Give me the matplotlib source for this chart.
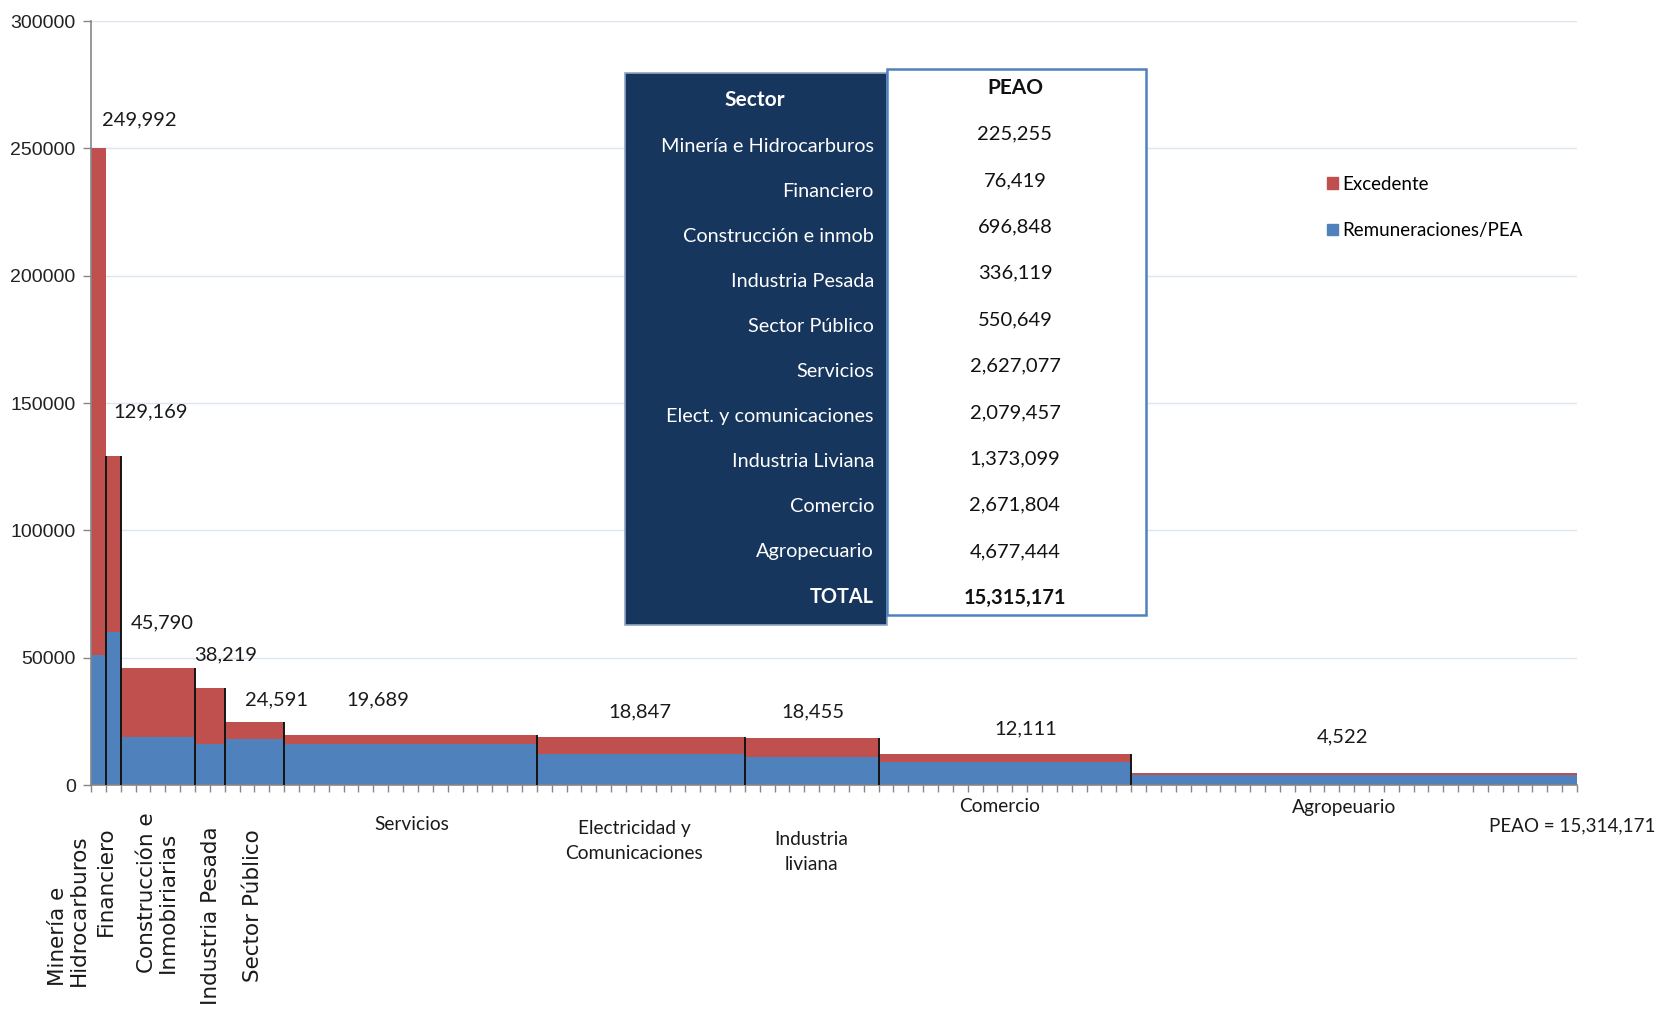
import numpy as np
import matplotlib
matplotlib.use("Agg")
import matplotlib.pyplot as plt
from matplotlib.patches import Rectangle, Patch

# Sector data
sector_labels = ["Minería e\nHidrocarburos", "Financiero", "Construcción e\nInmobiriarias",
                 "Industria Pesada", "Sector Público", "Servicios",
                 "Electricidad y\nComunicaciones", "Industria\nliviana", "Comercio", "Agropeuario"]
table_sectors = ["Minería e Hidrocarburos", "Financiero", "Construcción e inmob",
                 "Industria Pesada", "Sector Público", "Servicios",
                 "Elect. y comunicaciones", "Industria Liviana", "Comercio", "Agropecuario"]
peao = [225255, 76419, 696848, 336119, 550649, 2627077, 2079457, 1373099, 2671804, 4677444]
peao_total = 15315171
peao_note = "PEAO = 15,314,171"
width_pct = [1, 1, 5, 2, 4, 17, 14, 9, 17, 30]          # share of PEAO, in 1% units
total_per_worker = [249992, 129169, 45790, 38219, 24591, 19689, 18847, 18455, 12111, 4522]
remuneraciones = [51000, 60000, 19000, 16000, 18000, 16000, 12000, 11000, 9000, 3900]
excedente = [t - r for t, r in zip(total_per_worker, remuneraciones)]

RED = "#C0504D"
BLUE = "#4F81BD"
NAVY = "#17365D"
SANS = "Lato"   # closest installed face to Calibri

W, H = 1659, 1014
fig = plt.figure(figsize=(W / 100, H / 100), dpi=100)


def fx(px):
    return px / W


def fy(py):
    return 1 - py / H


ax = fig.add_axes([fx(91), fy(785), fx(1577) - fx(91), fy(21) - fy(785)])

lefts = np.cumsum([0] + width_pct[:-1])
ax.bar(lefts, remuneraciones, width=width_pct, align="edge", color=BLUE, linewidth=0)
ax.bar(lefts, excedente, bottom=remuneraciones, width=width_pct, align="edge",
       color=RED, linewidth=0)

# dark separators on the bar edges
for i in range(1, 9):
    ax.vlines([lefts[i], lefts[i] + width_pct[i]], 0, total_per_worker[i],
              color="#151515", lw=1.4, zorder=3)

ax.set_xlim(0, 100)
ax.set_ylim(0, 300000)
ax.set_yticks(np.arange(0, 300001, 50000))
ax.set_yticklabels([str(v) for v in range(0, 300001, 50000)],
                   fontfamily="Liberation Sans", fontsize=14, color="#222222")
ax.set_xticks(np.arange(0, 101, 1))
ax.set_xticklabels([])
ax.tick_params(axis="x", direction="out", length=5, width=1, color="#868686")
ax.tick_params(axis="y", direction="out", length=6, width=1, color="#868686", pad=5)
ax.yaxis.grid(True, color="#DDE5EF", lw=1)
ax.set_axisbelow(True)
for s in ["top", "right"]:
    ax.spines[s].set_visible(False)
for s in ["left", "bottom"]:
    ax.spines[s].set_color("#868686")
    ax.spines[s].set_linewidth(1.2)

# value labels above bars (offsets in pixels from bar top centre)
label_offsets = [(41, 28), (37, 44), (4, 46), (16, 33), (22, 22),
                 (-33, 35), (-1, 25), (1, 26), (21, 25), (-12, 37)]
for i, tot in enumerate(total_per_worker):
    ax.annotate(f"{tot:,}", (lefts[i] + width_pct[i] / 2, tot),
                xytext=label_offsets[i], textcoords="offset pixels",
                ha="center", va="center", fontfamily=SANS, fontsize=14.5, color="#1a1a1a")

# category labels under the axis
rot_pos = [(68, 834), (106, 826), (157, 812), (211, 826), (253, 829)]
for lab, (x, y) in zip(sector_labels[:5], rot_pos):
    fig.text(fx(x), fy(y), lab, rotation=90, ha="center", va="top", multialignment="left",
             fontfamily="DejaVu Sans", fontsize=15.5, color="#1a1a1a", linespacing=1.05)
hor_pos = [(412, 825), (634, 841), (811, 852), (1000, 807), (1344, 807)]
for lab, (x, y) in zip(sector_labels[5:], hor_pos):
    fig.text(fx(x), fy(y), lab, ha="center", va="center", fontfamily=SANS,
             fontsize=13.8, color="#1a1a1a", linespacing=1.6)
fig.text(fx(1489), fy(826), peao_note, ha="left", va="center", fontfamily=SANS,
         fontsize=13.5, color="#1a1a1a")

# legend
handles = [Patch(color=RED, label="Excedente"), Patch(color=BLUE, label="Remuneraciones/PEA")]
fig.legend(handles=handles, loc="upper left", bbox_to_anchor=(fx(1327), fy(176)),
           frameon=False, prop={"family": SANS, "size": 13.5}, handlelength=0.6,
           handleheight=0.6, handletextpad=0.2, labelspacing=1.55,
           borderaxespad=0, borderpad=0)

# PEAO table
fig.patches.append(Rectangle((fx(625), fy(625)), fx(887) - fx(625), fy(73) - fy(625),
                             transform=fig.transFigure, facecolor=NAVY,
                             edgecolor="#8DA6C6", lw=1.2))
fig.patches.append(Rectangle((fx(887), fy(615)), fx(1146) - fx(887), fy(69) - fy(615),
                             transform=fig.transFigure, facecolor="white",
                             edgecolor=BLUE, lw=1.8))
fig.text(fx(755), fy(100), "Sector", ha="center", va="center", color="white",
         fontfamily=SANS, fontsize=15, fontweight="bold")
fig.text(fx(1015), fy(88), "PEAO", ha="center", va="center", color="#111111",
         fontfamily=SANS, fontsize=15, fontweight="bold")
rows = table_sectors + ["TOTAL"]
vals = [f"{v:,}" for v in peao] + [f"{peao_total:,}"]
for i, (lab, val) in enumerate(zip(rows, vals)):
    bold = "bold" if lab == "TOTAL" else "normal"
    fig.text(fx(874), fy(146 + 45.1 * i), lab, ha="right", va="center", color="white",
             fontfamily=SANS, fontsize=14.3, fontweight=bold)
    fig.text(fx(1015), fy(134 + 46.4 * i), val, ha="center", va="center", color="#111111",
             fontfamily=SANS, fontsize=14.5, fontweight=bold)

fig.savefig("out.png", dpi=100, facecolor="white")
